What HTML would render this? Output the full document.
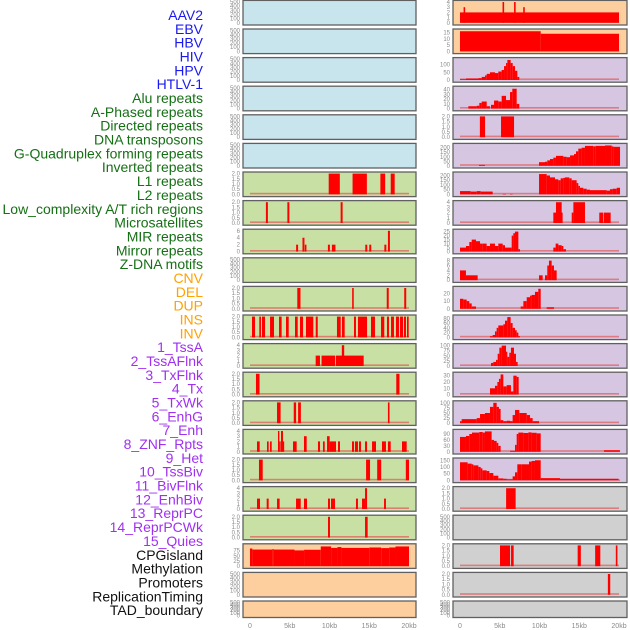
<!DOCTYPE html>
<html><head><meta charset="utf-8">
<style>
html,body{margin:0;padding:0;background:#fff;}
svg{display:block;font-family:"Liberation Sans",sans-serif;}
</style></head>
<body>
<svg id="chart" width="630" height="630" viewBox="0 0 630 630" xmlns="http://www.w3.org/2000/svg"></svg>
<script>
const trackNames = ["AAV2","EBV","HBV","HIV","HPV","HTLV-1","Alu repeats","A-Phased repeats","Directed repeats","DNA transposons","G-Quadruplex forming repeats","Inverted repeats","L1 repeats","L2 repeats","Low_complexity A/T rich regions","Microsatellites","MIR repeats","Mirror repeats","Z-DNA motifs","CNV","DEL","DUP","INS","INV","1_TssA","2_TssAFlnk","3_TxFlnk","4_Tx","5_TxWk","6_EnhG","7_Enh","8_ZNF_Rpts","9_Het","10_TssBiv","11_BivFlnk","12_EnhBiv","13_ReprPC","14_ReprPCWk","15_Quies","CPGisland","Methylation","Promoters","ReplicationTiming","TAD_boundary"];
const trackGroups = ["virus","virus","virus","virus","virus","virus","repeat","repeat","repeat","repeat","repeat","repeat","repeat","repeat","repeat","repeat","repeat","repeat","repeat","sv","sv","sv","sv","sv","chrom","chrom","chrom","chrom","chrom","chrom","chrom","chrom","chrom","chrom","chrom","chrom","chrom","chrom","chrom","other","other","other","other","other"];
const T500=[0,100,200,300,400,500], T2=[0,0.5,1,1.5,2], T4=[0,1,2,3,4];
const trackTicks = [T500,T500,T500,T500,T500,T500,T2,T2,[0,2,4,6],T500,T2,T2,T4,T2,T2,T4,T2,T4,T2,[0,25,50,75],T500,T500,
 T4,[0,5,10,15],[0,50,100],[0,10,20,30,40],T2,[0,50,100,150,200],[0,50,100,150,200],T4,[0,5,10,15,20,25],[0,2,4,6,8],[0,10,20],[0,20,40,60,80],[0,25,50,75,100],[0,10,20,30],[0,25,50,75,100],[0,30,60,90],[0,50,100,150],T2,T500,T2,T2,T500];
const trackMax = [500,500,500,500,500,500,2,2,6,500,2,2,4,2,2,4,2,4,2,100,500,500,
 4,16.5,135,44,2,230,220,4,26,8.5,27,87,102,33,102,105,155,2,500,2,2,500];
const xTicks = [0,5,10,15,20];
const xTickLabels = ["0","5kb","10kb","15kb","20kb"];
// segments: [startKb, endKb, value]
const trackSegments = [
 [],[],[],[],[],[],
 [[9.9,11.3,2],[12.9,14.7,2],[16.4,17.0,2],[17.7,18.2,2]],
 [[2.0,2.25,2],[4.7,4.95,2],[11.4,11.65,2]],
 [[5.8,6.05,2],[6.6,6.85,4],[6.9,7.1,2],[9.8,10.05,2],[10.3,10.75,2],[14.5,14.75,2],[15.0,15.25,2],[16.9,17.15,2],[17.35,17.6,6]],
 [],
 [[5.95,6.35,2],[12.85,13.05,2],[17.2,17.45,2],[19.4,19.65,2]],
 [[0.25,0.63,2],[1.17,1.38,2],[1.51,1.89,2],[2.52,3.02,2],[3.65,3.98,2],[4.53,4.87,2],[5.66,6.0,2],[6.29,6.67,2],[7.04,7.96,2],[8.27,8.52,2],[10.94,11.41,2],[11.57,11.91,2],[13.08,13.33,2],[13.58,14.72,2],[15.22,15.72,2],[16.48,16.89,2],[17.23,17.48,2],[17.74,18.11,2],[18.36,18.74,2],[18.87,19.25,2],[19.37,19.62,2],[19.75,19.96,2]],
 [[8.26,8.8,2],[9.0,10.7,2],[10.8,14.3,2],[11.55,11.85,4]],
 [[0.75,1.2,2],[18.4,18.8,2]],
 [[3.4,3.85,2],[5.5,5.8,2],[6.05,6.4,2],[17.35,17.55,2]],
 [[0.88,1.22,2],[2.14,2.35,2],[2.52,2.73,2],[3.52,3.69,4],[3.69,3.86,2],[3.9,4.15,4],[4.15,4.28,2],[5.41,5.87,2],[6.79,7.13,3],[8.55,8.81,2],[9.18,9.4,2],[9.69,10.02,3],[10.02,10.82,2],[11.07,11.32,2],[12.83,13.08,2],[13.2,13.58,2],[13.71,13.96,2],[14.47,14.72,2],[15.35,15.85,2],[16.6,17.1,2],[17.35,17.7,2],[19.12,19.71,2]],
 [[1.13,1.6,2],[14.6,15.1,2],[16.0,16.5,2],[19.6,20.0,2]],
 [[0.88,1.26,2],[2.1,2.35,2],[3.4,3.73,2],[5.79,6.38,2],[6.79,7.17,2],[9.81,10.06,2],[10.19,10.69,2],[13.33,13.58,2],[14.09,14.47,2],[14.47,14.72,4],[16.86,17.1,2]],
 [[9.81,10.06,2],[14.47,14.8,2]],
 [[0,0.3,85],[0.3,2.8,80],[2.8,3.0,82],[3.0,5.6,80],[5.6,6.8,76],[6.8,8.9,79],[8.9,10.2,95],[10.2,11.0,88],[11.0,11.5,92],[11.5,15.0,88],[15.0,16.5,90],[16.5,17.5,87],[17.5,18.3,90],[18.3,20.0,95]],
 [],[],
 [[0,20,2],[0.45,0.65,3],[5.35,5.55,4],[6.8,7.0,4],[7.95,8.15,3]],
 [[0,10.15,16],[10.15,20,14]],
 [[0,0.76,5],[0.76,2.31,10],[2.31,2.73,12],[2.73,3.15,20],[3.15,3.36,30],[3.36,3.77,40],[3.77,4.4,50],[4.4,4.82,45],[4.82,5.24,55],[5.24,5.54,65],[5.54,5.79,90],[5.79,5.96,110],[5.96,6.37,130],[6.37,6.63,110],[6.63,6.92,90],[6.92,7.21,60],[7.21,7.46,20]],
 [[1.05,2.1,5],[2.1,2.43,6],[2.43,2.73,12],[2.73,3.36,15],[3.36,3.77,5],[3.9,4.28,8],[4.28,4.82,17],[4.82,5.24,15],[5.24,5.79,27],[5.79,6.29,18],[6.29,6.58,35],[6.58,7.13,42],[7.13,7.46,10]],
 [[2.5,3.15,2],[5.16,6.8,2]],
 [[2.39,3.14,10],[9.94,10.69,40],[10.69,10.98,45],[10.98,11.32,60],[11.32,11.74,75],[11.74,12.07,90],[12.07,13.0,110],[13.0,13.42,100],[13.42,13.84,95],[13.84,14.34,115],[14.34,14.59,130],[14.59,14.88,160],[14.88,15.3,190],[15.3,15.72,200],[15.72,16.77,220],[16.77,17.06,215],[17.06,18.24,220],[18.24,19.08,225],[19.08,19.29,215],[19.29,20.13,210]],
 [[0,1.34,35],[1.34,2.1,30],[2.1,2.6,35],[2.6,4.11,30],[5.37,5.79,5],[6.29,6.62,5],[9.94,10.9,215],[10.9,11.32,200],[11.32,11.95,180],[11.95,12.37,160],[12.37,12.66,150],[12.66,13.0,170],[13.0,13.21,175],[13.21,13.75,180],[13.75,14.05,170],[14.05,14.67,150],[14.67,14.88,120],[14.88,15.09,90],[15.09,15.51,70],[15.51,15.93,60],[15.93,16.35,50],[16.35,18.45,45],[18.45,18.87,40],[18.87,19.2,55],[19.2,19.71,60],[19.71,20.13,70]],
 [[11.74,12.91,2],[12.07,12.79,4],[14.05,14.26,2],[14.26,15.72,4],[17.52,18.03,2],[18.11,18.95,2]],
 [[0,0.75,5],[0.75,1.17,7],[1.17,1.47,12],[1.47,2.01,15],[2.01,2.52,13],[2.52,2.85,10],[2.85,3.35,10],[3.35,3.77,7],[3.77,4.4,10],[4.4,4.82,7],[4.82,5.37,10],[5.37,5.66,8],[5.66,6.5,5],[6.5,6.71,20],[6.71,6.92,23],[6.92,7.34,25],[7.34,7.55,3],[11.74,12.03,5],[12.03,12.37,10],[12.37,12.79,8],[12.79,13.0,7],[13.0,13.33,3]],
 [[0,0.75,4],[0.75,2.22,2],[9.94,10.4,2],[10.69,10.98,2],[10.98,11.19,6],[11.19,11.53,8],[11.53,11.82,6],[11.82,12.16,4]],
 [[0,0.42,13],[0.42,0.84,12],[0.84,1.17,10],[1.17,1.47,7],[1.47,2.01,3],[7.63,7.97,3],[7.97,8.39,10],[8.39,8.81,15],[8.81,9.01,17],[9.01,9.43,18],[9.43,9.85,22],[9.85,10.15,26],[10.9,11.82,2]],
 [[3.77,4.11,5],[4.11,4.4,10],[4.4,4.61,25],[4.61,4.82,40],[4.82,5.45,50],[5.45,5.66,55],[5.66,5.95,70],[5.95,6.37,85],[6.37,6.62,60],[6.62,6.92,40],[6.92,7.13,30],[7.13,7.34,20],[7.34,7.55,5]],
 [[3.9,4.19,15],[4.19,4.53,20],[4.53,4.74,30],[4.74,4.95,60],[4.95,5.24,90],[5.24,5.79,100],[5.79,5.95,70],[5.95,6.2,45],[6.2,6.41,65],[6.41,6.79,90],[6.79,7.04,60],[7.04,7.25,20]],
 [[3.77,4.4,10],[4.4,4.7,14],[4.7,4.9,20],[4.9,5.11,25],[5.11,5.45,32],[5.45,5.87,13],[5.87,6.41,15],[6.41,6.71,5],[6.71,7.13,30],[7.13,7.38,28]],
 [[0,0.21,10],[0.21,2.1,20],[2.1,2.52,25],[2.52,3.14,45],[3.14,3.77,50],[3.77,4.19,80],[4.19,4.61,100],[4.61,4.9,80],[4.9,5.11,70],[5.11,5.45,15],[5.45,5.87,10],[5.87,6.29,12],[6.29,6.62,10],[6.62,6.92,40],[6.92,7.46,65],[7.46,8.39,50],[8.39,8.81,40],[8.81,9.14,25],[9.14,9.94,10]],
 [[0,0.75,75],[0.75,1.17,80],[1.17,1.51,90],[1.51,2.43,97],[2.43,2.85,100],[2.85,3.14,97],[3.14,3.98,103],[3.98,4.28,60],[4.28,4.61,55],[4.61,4.82,45],[4.82,5.11,30],[6.29,6.92,5],[6.92,7.13,35],[7.13,7.34,90],[7.34,7.97,97],[7.97,8.6,95],[8.6,9.01,98],[9.01,9.64,96],[9.64,10.15,93],[18.11,20.13,8]],
 [[0,0.96,135],[0.96,1.47,125],[1.47,1.68,120],[1.68,2.31,112],[2.31,2.6,100],[2.6,2.81,90],[2.81,3.35,75],[3.35,3.69,70],[3.69,4.19,55],[4.19,4.82,35],[4.82,5.45,15],[5.45,5.87,12],[5.87,6.62,8],[6.62,6.92,30],[6.92,7.21,60],[7.21,7.76,120],[7.76,8.68,120],[8.68,9.01,140],[9.01,9.43,145],[9.43,10.15,150],[10.15,12.58,17],[12.58,19.92,12],[19.92,20.13,5]],
 [[5.8,7.0,2]],
 [],
 [[5.03,6.3,2],[6.42,6.75,2],[14.8,15.2,2],[17.0,17.65,2],[19.6,19.8,2]],
 [[18.6,18.9,2]],
 []
];
const groupBg = {virus:"#c8e4ec",repeat:"#c8e0a3",sv:"#fecf9e",chrom:"#d6c6e2",other:"#d0d0d0"};
const groupFg = {virus:"#1a1aee",repeat:"#157015",sv:"#ffa200",chrom:"#a030f0",other:"#111"};

const svg = document.getElementById('chart');
const NS = "http://www.w3.org/2000/svg";
function mk(tag, attrs, parent){const e=document.createElementNS(NS,tag);for(const k in attrs)e.setAttribute(k,attrs[k]);(parent||svg).appendChild(e);return e;}

// labels
trackNames.forEach((n,i)=>{
  const t = mk('text',{x:203,y:(20+i*13.84).toFixed(1),'text-anchor':'end','font-size':'14',fill:groupFg[trackGroups[i]]});
  
  
  t.textContent=n;
});

const cols=[{x0:243,x1:416,zero:250},{x0:453,x1:627,zero:460}];
const pxPerKb = 7.95;
function xScale(col,kb){return cols[col].zero+kb*pxPerKb;}

trackNames.forEach((n,i)=>{
  const col = i<22?0:1, row = i%22;
  const top = 28.6*row+0.4, h = row===21?16.5:24.6;
  const c = cols[col];
  const g = mk('g',{});
  
  
  const bg = mk('rect',{x:c.x0,y:top,width:c.x1-c.x0,height:h,fill:groupBg[trackGroups[i]],stroke:'#606060','stroke-width':1.3},g);
  
  
  const yb = top+h-2.2, yt = top+1.6, dmax = trackMax[i];
  const yScale = v => yb-(v/dmax)*(yb-yt);
  const ticks = trackTicks[i];
  const step = ticks[1]-ticks[0];
  ticks.forEach(tv=>{
    const tl = mk('text',{x:c.x0-3,y:(yScale(tv)+2).toFixed(1),'text-anchor':'end','font-size':'6',fill:'#8a8a8a'},g);
    
    
    tl.textContent = step<1?tv.toFixed(1):String(tv);
  });
  const segs = trackSegments[i];
  if(segs.length){
    const bl = mk('rect',{x:xScale(col,0),y:yb-1.6,width:20*pxPerKb,height:1.6,fill:'#e06060','fill-opacity':0.75},g);
    
    
  }
  segs.forEach(s=>{
    const x0=xScale(col,s[0]), x1=xScale(col,s[1]);
    const y=yScale(s[2]);
    const r = mk('rect',{x:x0.toFixed(2),y:y.toFixed(2),width:Math.max(1.2,x1-x0).toFixed(2),height:(yb-y).toFixed(2),fill:'#ff0000'},g);
    
    
  });
});

// x axes
cols.forEach((c,ci)=>{
  xTicks.forEach((kb,k)=>{
    const t = mk('text',{x:xScale(ci,kb),y:628,'text-anchor':'middle','font-size':'7',fill:'#8a8a8a'});
    
    
    t.textContent = xTickLabels[k];
  });
});
</script>
</body></html>
